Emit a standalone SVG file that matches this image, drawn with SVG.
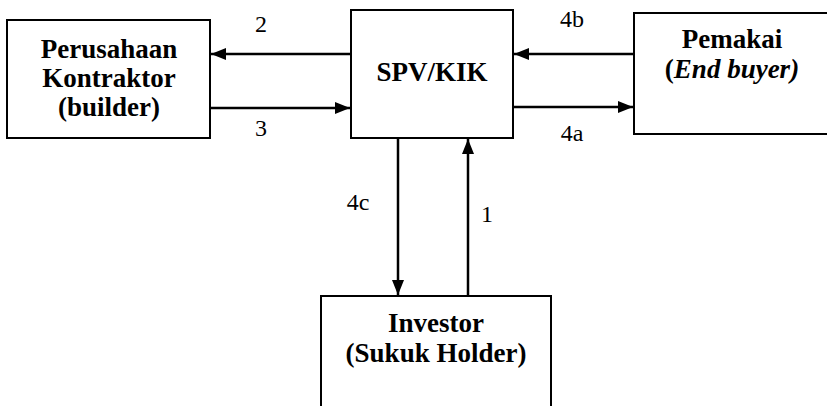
<svg xmlns="http://www.w3.org/2000/svg" width="827" height="406" viewBox="0 0 827 406">
<style>
.box{fill:#fff;stroke:#000;stroke-width:2}
.t{font-family:'Liberation Serif','Times New Roman',serif;font-weight:bold;font-size:27px;text-anchor:middle;fill:#000}
.n{font-family:'Liberation Serif','Times New Roman',serif;font-size:24px;text-anchor:middle;fill:#000}
.c{stroke:#000;stroke-width:2.5;fill:none;marker-end:url(#ah)}
</style>
<defs>
<marker id="ah" markerUnits="userSpaceOnUse" markerWidth="16" markerHeight="14" refX="15" refY="7" orient="auto">
<path d="M0,1 L15,7 L0,13 Z" fill="#000"/>
</marker>
</defs>
<rect width="827" height="406" fill="#fff"/>
<g id="kontraktor">
<rect class="box" x="7" y="20" width="203" height="118"/>
<text class="t" x="109" y="58">Perusahaan</text>
<text class="t" x="109" y="87">Kontraktor</text>
<text class="t" x="109" y="116">(builder)</text>
</g>
<g id="spv">
<rect class="box" x="351" y="10" width="162" height="128"/>
<text class="t" x="432" y="81" font-size="29">SPV/KIK</text>
</g>
<g id="pemakai">
<rect class="box" x="634" y="13" width="200" height="121"/>
<text class="t" x="732" y="48">Pemakai</text>
<text class="t" x="732" y="78"><tspan font-style="normal">(</tspan><tspan font-style="italic">End buyer)</tspan></text>
</g>
<g id="investor">
<rect class="box" x="321" y="296" width="230" height="120"/>
<text class="t" x="436" y="332">Investor</text>
<text class="t" x="436" y="362">(Sukuk Holder)</text>
</g>
<g id="connectors">
<line class="c" x1="351" y1="54" x2="211" y2="54"/>
<line class="c" x1="210" y1="108" x2="350" y2="108"/>
<line class="c" x1="634" y1="54" x2="514" y2="54"/>
<line class="c" x1="513" y1="107" x2="633" y2="107"/>
<line class="c" x1="398" y1="138" x2="398" y2="295"/>
<line class="c" x1="468" y1="296" x2="468" y2="139"/>
</g>
<g id="labels">
<text class="n" x="261" y="32">2</text>
<text class="n" x="261" y="136">3</text>
<text class="n" x="572" y="27">4b</text>
<text class="n" x="572" y="141">4a</text>
<text class="n" x="358" y="210">4c</text>
<text class="n" x="487" y="222" font-size="31">1</text>
</g>
</svg>
